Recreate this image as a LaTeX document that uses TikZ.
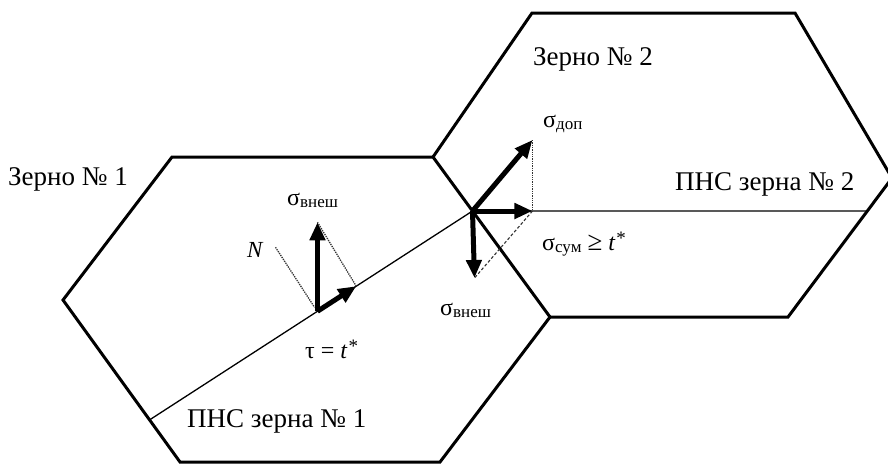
\documentclass[tikz,border=0pt]{standalone}
\usepackage{fontspec}
\setmainfont{Liberation Serif}
\usetikzlibrary{calc,arrows.meta}
\newcommand{\lowsub}[1]{\raisebox{-0.25ex}{\fontsize{17}{17}\selectfont #1}}
\newcommand{\tstar}{\textit{t}\kern1pt\raisebox{0.5ex}{\fontsize{19}{19}\selectfont *}}
\tikzset{
  grain/.style={line width=3pt, line join=miter},
  pns/.style={line width=1.3pt},
  vec/.style={line width=5pt, -{Triangle[length=18pt,width=15pt]}},
  aux/.style={line width=1.3pt, densely dotted, black!80},
  auxdash/.style={line width=1.1pt, dash pattern=on 3pt off 2pt, black!80},
  big/.style={font=\fontsize{27}{27}\selectfont, inner sep=0pt, anchor=base west},
  sig/.style={font=\fontsize{24}{24}\selectfont, inner sep=0pt, anchor=base west},
}
\begin{document}
\begin{tikzpicture}[x=1pt,y=-1pt]
\clip (0,0) rectangle (888,464);
% grain 1
\coordinate (a1) at (63,300);
\coordinate (a2) at (172,157);
\coordinate (a3) at (433,157);
\coordinate (a4) at (550,317);
\coordinate (a5) at (440,462);
\coordinate (a6) at (180,462);
% grain 2
\coordinate (b1) at (532,13);
\coordinate (b2) at (795,13);
\coordinate (b3) at (892,178);
\coordinate (b4) at (788,317);
% junction and PNS ends
\coordinate (J) at ($(a3)!0.3375!(a4)$);
\coordinate (P1) at ($(a1)!0.74!(a6)$);
\coordinate (P2) at ($(b3)!0.237!(b4)$);
\draw[grain] (a1) -- (a2) -- (a3) -- (a4) -- (a5) -- (a6) -- cycle;
\draw[grain] (a3) -- (b1) -- (b2) -- (b3) -- (b4) -- (a4);
\draw[pns] (P1) -- (J);
\draw[pns] (J) -- (P2);
% left vectors
\coordinate (O1) at ($(P1)!0.52!(J)$);
\coordinate (T1) at ($(P1)!0.64!(J)$);
\coordinate (U1) at ($(O1)+(0,-89)$);
\coordinate (N1) at ($(O1)+(-42,-64)$);
\draw[aux] (U1) -- (T1);
\draw[aux] (N1) -- ($(O1)+(-3,-4)$);
\draw[vec] (O1) -- (U1);
\draw[vec] (O1) -- (T1);
% right vectors
\coordinate (D2) at ($(J)+(60,-71)$);
\coordinate (H2) at ($(J)+(60,0)$);
\coordinate (V2) at ($(J)+(2,67)$);
\draw[aux] (D2) -- (H2);
\draw[auxdash] (H2) -- (V2);
\draw[vec] (J) -- (D2);
\draw[vec] (J) -- (H2);
\draw[vec] (J) -- (V2);
% labels
\node[big] (z1) at (8,185) {Зерно № 1};
\node[big] (z2) at (533,65) {Зерно № 2};
\node[big] (p2) at (675,190) {ПНС зерна № 2};
\node[big] (p1) at (187,427) {ПНС зерна № 1};
\node[sig] (s1) at (287,205) {σ\lowsub{внеш}};
\node[sig] (s2) at (440,315) {σ\lowsub{внеш}};
\node[sig] (s3) at (543,127) {σ\lowsub{доп}};
\node[sig] (s4) at (542,250) {σ\lowsub{сум} {\fontsize{27}{27}\selectfont ≥} \tstar};
\node[sig] (tau) at (305,358) {τ = \tstar};
\node[sig, font=\fontsize{23}{23}\selectfont\itshape] (nl) at (247,257) {N};
\end{tikzpicture}
\end{document}
